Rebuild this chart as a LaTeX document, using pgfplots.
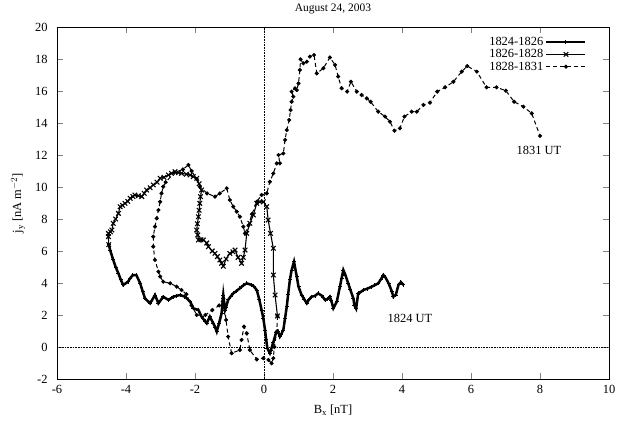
\documentclass[border=0pt]{standalone}
\usepackage{pgfplots}
\pgfplotsset{compat=1.18}
\usepackage{fontspec}
\setmainfont{Liberation Serif}

\begin{document}
\begin{tikzpicture}
\useasboundingbox (-57bp,-46bp) rectangle (560bp,379bp);
\begin{axis}[
    scale only axis,
    width=552bp, height=352bp,
    xmin=-6, xmax=10,
    ymin=-2, ymax=20,
    xtick={-6,-4,...,10},
    ytick={-2,0,...,20},
    tick align=inside,
    major tick length=6bp,
    /pgf/number format/assume math mode=true,
    tick label style={font=\fontsize{12.5}{14}\selectfont},
    xticklabel style={yshift=-3bp},
    yticklabel style={xshift=-6bp},
    title={August 24, 2003},
    title style={at={(axis description cs:0.5,1)}, anchor=center, yshift=12bp,
                 font=\fontsize{11.5}{13}\selectfont},
    xlabel={B$_\mathrm{x}$ [nT]},
    xlabel style={at={(axis description cs:0.5,0)}, anchor=center, yshift=-31bp,
                  font=\fontsize{12.5}{14}\selectfont},
    ylabel={j$_\mathrm{y}$ [nA m$^{-2}$]},
    ylabel style={at={(axis description cs:0,0.5)}, anchor=center, yshift=39bp,
                  font=\fontsize{12.5}{14}\selectfont},
    legend style={at={(rel axis cs:0.96,0.977)}, anchor=north east,
                  draw=none, fill=none, font=\fontsize{12.5}{14}\selectfont,
                  inner sep=0pt, row sep=-1.5bp, legend cell align=right},
    legend plot pos=right,
    legend image code/.code={%
      \draw[mark repeat=2, mark phase=2, #1]
        plot coordinates {(0bp,0bp) (19.5bp,0bp) (39bp,0bp)};},
  ]

  \draw[densely dotted, line width=0.6pt] (axis cs:0,-2) -- (axis cs:0,20);
  \draw[densely dotted, line width=0.6pt] (axis cs:-6,0) -- (axis cs:10,0);

  % 1824-1826
  \addplot[black, line width=2.5bp, mark=+, mark size=2bp,
           mark options={line width=1bp, solid}]
    coordinates {
      (4.04,3.88) (3.97,4.05) (3.90,3.90) (3.82,3.25) (3.75,3.15) (3.70,3.50)
      (3.62,3.95) (3.52,4.35) (3.46,4.50) (3.38,4.20) (3.31,3.98) (3.20,3.85)
      (3.12,3.77) (3.00,3.65) (2.88,3.56) (2.78,3.40) (2.73,3.35) (2.67,2.40)
      (2.62,2.60) (2.59,3.04) (2.50,3.60) (2.44,3.98) (2.36,4.50) (2.30,4.81)
      (2.25,4.30) (2.20,3.77) (2.11,2.83) (2.01,2.42) (1.95,2.90) (1.91,3.14)
      (1.84,3.00) (1.77,2.94) (1.68,3.20) (1.57,3.35) (1.48,3.20) (1.38,3.14)
      (1.30,2.95) (1.24,2.73) (1.16,3.00) (1.09,3.25) (1.00,3.77) (0.95,4.40)
      (0.87,5.33) (0.80,4.80) (0.75,4.19) (0.70,3.30) (0.66,2.52) (0.61,1.80)
      (0.56,1.06) (0.50,0.80) (0.46,0.65) (0.40,1.00) (0.35,0.90) (0.27,0.30)
      (0.20,-0.20) (0.17,-0.39) (0.10,-0.10) (0.06,0.50) (0.03,1.06)
      (-0.02,1.80) (-0.07,2.31) (-0.14,3.00) (-0.21,3.56) (-0.30,3.80)
      (-0.36,3.88) (-0.50,3.98) (-0.60,3.85) (-0.70,3.67) (-0.80,3.50)
      (-0.89,3.35) (-0.97,3.15) (-1.04,2.94) (-1.10,2.50) (-1.13,2.31)
      (-1.18,3.25) (-1.23,2.10) (-1.30,1.50) (-1.37,0.96) (-1.42,1.25)
      (-1.47,1.48) (-1.57,1.90) (-1.66,1.48) (-1.74,1.70) (-1.81,1.90)
      (-1.90,2.31) (-2.05,2.42) (-2.14,2.83) (-2.29,3.14) (-2.43,3.25)
      (-2.53,3.20) (-2.63,3.14) (-2.77,2.94) (-2.92,3.14) (-3.06,2.73)
      (-3.16,3.25) (-3.30,2.73) (-3.45,3.04) (-3.52,3.50) (-3.59,3.98)
      (-3.70,4.50) (-3.80,4.50) (-3.88,4.30) (-3.94,4.08) (-4.08,3.88)
      (-4.15,4.20) (-4.22,4.60) (-4.30,5.00) (-4.37,5.44) (-4.46,6.06)
      (-4.50,6.40)
    };
  \addlegendentry{1824-1826}

  % 1826-1828
  \addplot[black, line width=1.1bp, mark=x, mark size=3.2bp,
           mark options={line width=1.1bp}]
    coordinates {
      (-4.50,6.40) (-4.51,6.90) (-4.51,7.10) (-4.45,7.20) (-4.41,7.31)
      (-4.37,7.73) (-4.30,8.00) (-4.22,8.35) (-4.17,8.77) (-4.10,8.85)
      (-4.03,8.98) (-3.95,9.10) (-3.88,9.29) (-3.80,9.40) (-3.74,9.50)
      (-3.64,9.45) (-3.54,9.40) (-3.47,9.60) (-3.40,9.81) (-3.30,9.95)
      (-3.21,10.13) (-3.10,10.30) (-3.01,10.54) (-2.90,10.60) (-2.77,10.75)
      (-2.68,10.85) (-2.58,10.96) (-2.48,10.90) (-2.39,10.85) (-2.25,10.80)
      (-2.14,10.75) (-2.05,10.65) (-1.95,10.54) (-1.88,10.20) (-1.81,9.81)
      (-1.84,9.40) (-1.86,8.98) (-1.88,8.55) (-1.90,8.14) (-1.93,7.70)
      (-1.95,7.31) (-1.92,7.00) (-1.90,6.69) (-1.83,6.70) (-1.76,6.69)
      (-1.66,6.50) (-1.61,6.27) (-1.50,6.00) (-1.42,5.85) (-1.35,5.65)
      (-1.28,5.44) (-1.23,5.23) (-1.18,5.05) (-1.10,5.50) (-0.99,5.85)
      (-0.90,5.95) (-0.84,6.06) (-0.75,5.60) (-0.65,5.23) (-0.60,5.60)
      (-0.55,6.06) (-0.50,7.10) (-0.41,7.73) (-0.31,8.25) (-0.21,8.98)
      (-0.12,9.08) (-0.02,9.08) (0.08,8.77) (0.12,7.94) (0.19,7.10)
      (0.27,6.17) (0.27,4.50) (0.32,3.25) (0.39,1.94)
    };
  \addlegendentry{1826-1828}

  % 1828-1831
  \addplot[black, line width=1bp, dash pattern=on 4bp off 3bp,
           mark=*, mark size=1.5bp, mark options={solid}]
    coordinates {
      (0.39,1.94) (0.37,0.96) (0.30,0.00) (0.27,-0.70) (0.22,-1.02)
      (0.13,-0.81) (-0.02,-0.70) (-0.21,-0.77) (-0.41,-0.19) (-0.50,0.85)
      (-0.58,1.27) (-0.65,0.44) (-0.70,-0.19) (-0.94,-0.39) (-1.04,0.65)
      (-1.10,1.69) (-1.18,3.04) (-1.30,2.60) (-1.50,2.30) (-1.70,2.00)
      (-1.95,2.00) (-2.10,2.60) (-2.25,3.30) (-2.39,3.56) (-2.53,3.77)
      (-2.72,3.98) (-2.92,4.08) (-3.01,4.40) (-3.06,4.71) (-3.16,5.44)
      (-3.21,6.27) (-3.21,6.90) (-3.16,7.52) (-3.11,8.04) (-3.06,8.56)
      (-3.01,9.08) (-2.97,9.60) (-2.92,10.02) (-2.85,10.30) (-2.60,10.90)
      (-2.35,11.10) (-2.19,11.38) (-2.10,11.00) (-1.95,10.50) (-1.86,10.02)
      (-1.65,9.60) (-1.42,9.40) (-1.28,9.60) (-1.08,9.92) (-0.99,9.19)
      (-0.89,8.77) (-0.79,8.46) (-0.70,8.14) (-0.60,7.52) (-0.55,7.10)
      (-0.45,7.60) (-0.35,8.30) (-0.21,9.08) (-0.07,9.50) (0.08,9.60)
      (0.17,10.33) (0.27,10.85) (0.37,11.48) (0.46,11.48) (0.42,12.00)
      (0.56,12.10) (0.61,12.94) (0.66,13.56) (0.73,14.19) (0.77,14.81)
      (0.80,15.33) (0.85,15.65) (0.80,15.96) (0.90,16.17) (0.95,16.06)
      (1.00,16.48) (1.04,17.31) (1.06,17.98) (1.14,17.73) (1.24,17.83)
      (1.33,18.15) (1.45,18.25) (1.53,17.10) (1.72,17.42) (1.91,18.10)
      (2.06,17.63) (2.15,16.90) (2.25,16.17) (2.41,15.96) (2.52,16.58)
      (2.69,15.96) (2.83,15.75) (2.98,15.54) (3.09,15.33) (3.31,14.71)
      (3.51,14.40) (3.65,14.08) (3.78,13.52) (3.94,13.67) (4.07,14.40)
      (4.28,14.71) (4.43,14.71) (4.62,15.13) (4.81,15.27) (5.02,15.96)
      (5.25,16.23) (5.49,16.58) (5.73,17.21) (5.89,17.56) (6.17,17.21)
      (6.45,16.23) (6.74,16.23) (7.01,16.02) (7.25,15.33) (7.52,15.02)
      (7.76,14.60) (8.00,13.19)
    };
  \addlegendentry{1828-1831}

  \node[font=\fontsize{12.5}{14}\selectfont] at (axis cs:7.97,12.3) {1831 UT};
  \node[font=\fontsize{12.5}{14}\selectfont] at (axis cs:4.23,1.8) {1824 UT};
\end{axis}
\end{tikzpicture}
\end{document}
